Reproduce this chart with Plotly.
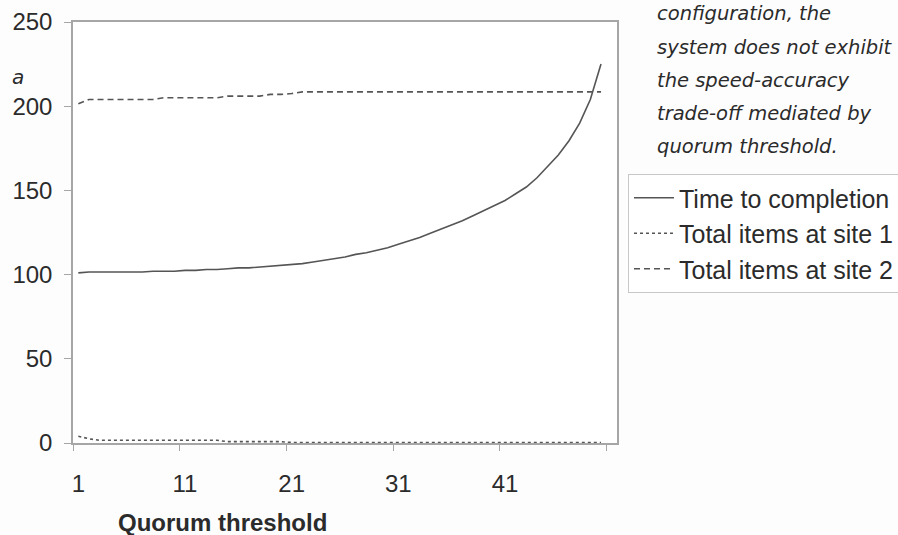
import plotly.graph_objects as go

quorum = list(range(1, 51))
time_to_completion = [101, 101.5, 101.5, 101.5, 101.5, 101.5, 101.5, 102, 102, 102,
                      102.5, 102.5, 103, 103, 103.5, 104, 104, 104.5, 105, 105.5,
                      106, 106.5, 107.5, 108.5, 109.5, 110.5, 112, 113, 114.5, 116,
                      118, 120, 122, 124.5, 127, 129.5, 132, 135, 138, 141,
                      144, 148, 152, 157.5, 164, 171, 179.5, 190, 204, 225]
site1_items = [4, 2.5] + [1.6] * 12 + [0.8] * 6 + [0.3] * 30
site2_items = [201.5] + [204] * 7 + [205] * 6 + [206] * 4 + [207] * 2 + [207.5] + [208.5] * 29
x_tick_vals = [1, 11, 21, 31, 41]
x_tick_text = ["1", "11", "21", "31", "41"]
x_boundaries = [0.5, 10.5, 20.5, 30.5, 40.5, 50.5]
note_lines = ["configuration, the", "system does not exhibit", "the speed-accuracy",
              "trade-off mediated by", "quorum threshold."]

LINE = "#555555"
AX = "#a6a6a6"
TXT = "#2b2b2b"
FONT = "Liberation Sans, Arial, sans-serif"

fig = go.Figure()
fig.add_trace(go.Scatter(x=quorum, y=time_to_completion, mode="lines", name="Time to completion",
                         line=dict(color=LINE, width=1.6), legendgroup="a"))
fig.add_trace(go.Scatter(x=quorum, y=site1_items, mode="lines", name="Total items at site 1",
                         line=dict(color=LINE, width=1.6, dash="dot"), legendgroup="b"))
fig.add_trace(go.Scatter(x=quorum, y=site2_items, mode="lines", name="Total items at site 2",
                         line=dict(color=LINE, width=1.6, dash="6px,4px"), legendgroup="c"))

fig.update_layout(
    width=898, height=535,
    margin=dict(l=73, r=281, t=22, b=92, autoexpand=False),
    paper_bgcolor="#fdfdfd", plot_bgcolor="white",
    font=dict(family=FONT, size=24, color=TXT),
    showlegend=True,
    legend=dict(x=1.0202, y=(443 - 174) / 421, xanchor="left", yanchor="top",
                bordercolor="#c8c8c8", borderwidth=1, bgcolor="white",
                font=dict(family=FONT, size=25, color=TXT),
                tracegroupgap=0, itemwidth=40),
)
fig.update_xaxes(range=[0.5, 51.5], tickmode="array", tickvals=x_tick_vals, ticktext=x_tick_text,
                 ticks="", showgrid=False, zeroline=False,
                 showline=True, linecolor=AX, linewidth=1.5, mirror=True,
                 ticklabelstandoff=18,
                 minor=dict(tickmode="array", tickvals=x_boundaries, ticks="outside",
                            ticklen=6, tickcolor=AX, tickwidth=1, showgrid=False))
fig.update_yaxes(range=[0, 250], tickmode="linear", tick0=0, dtick=50,
                 ticks="outside", ticklen=7, tickcolor=AX, tickwidth=1,
                 showgrid=False, zeroline=False,
                 showline=True, linecolor=AX, linewidth=1.5, mirror=True,
                 ticklabelstandoff=7)

fig.add_annotation(text="<b>Quorum threshold</b>", xref="paper", yref="paper",
                   x=(222 - 73) / 544, y=(443 - 522) / 421, xanchor="center", yanchor="middle",
                   showarrow=False, font=dict(family=FONT, size=24, color=TXT))
fig.add_annotation(text="<i>a</i>", xref="paper", yref="paper",
                   x=(10 - 73) / 544, y=(443 - 77) / 421, xanchor="left", yanchor="middle",
                   showarrow=False, font=dict(family="DejaVu Sans", size=20, color=TXT))
for i, line in enumerate(note_lines):
    fig.add_annotation(text="<i>" + line + "</i>", xref="paper", yref="paper",
                       x=(655 - 73) / 544, y=(443 - (14 + 33.2 * i)) / 421,
                       xanchor="left", yanchor="middle", showarrow=False,
                       font=dict(family="DejaVu Sans", size=19.5, color=TXT))

fig.write_html("out.html", config={"displayModeBar": False},
               post_script="document.body.style.margin='0';document.body.style.overflow='hidden';")
